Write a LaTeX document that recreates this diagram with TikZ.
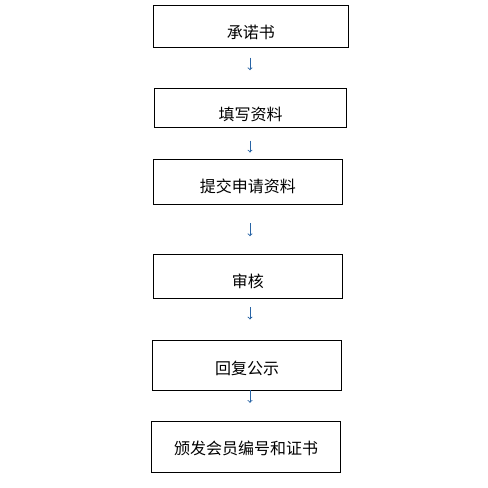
\documentclass[tikz,border=0pt]{standalone}
\usepackage{fontspec}
\newfontfamily\cjk{Noto Sans CJK SC}
\usetikzlibrary{calc}
\definecolor{arrowblue}{RGB}{40,100,165}

\begin{document}
\begin{tikzpicture}[x=1pt,y=-1pt,
		stepbox/.style={draw, line width=1pt, inner sep=0pt, font=\cjk\fontsize{16}{19}\selectfont, text depth=3pt},
		drop/.style={text height=#1},
		flowarrow/.style={->, draw=arrowblue, line width=0.9pt}]
		\useasboundingbox (0,0) rectangle (488,488);
		
		%the six steps
		\node[stepbox, drop=26.8pt, minimum width=195pt, minimum height=42.3pt] (promise) at (250.8,26.2) {承诺书};
		\node[stepbox, drop=27.6pt, minimum width=192.4pt, minimum height=39pt] (fill) at (250.5,107.8) {填写资料};
		\node[stepbox, drop=25pt, minimum width=189pt, minimum height=45pt] (submit) at (247.8,181.8) {提交申请资料};
		\node[stepbox, drop=26pt, minimum width=189pt, minimum height=44pt] (review) at (247.8,276.3) {审核};
		\node[stepbox, drop=20.2pt, minimum width=189.4pt, minimum height=50.3pt] (reply) at (247,365.8) {回复公示};
		\node[stepbox, drop=17.8pt, minimum width=189pt, minimum height=50.6pt] (issue) at (246.2,447) {颁发会员编号和证书};
		
		%short arrows in the gaps
		\draw[flowarrow] ([xshift=-0.8pt,yshift=-9.7pt]promise.south) -- ([xshift=-0.5pt,yshift=17.6pt]fill.north);
		\draw[flowarrow] ([xshift=-0.5pt,yshift=-12.7pt]fill.south) -- ([xshift=2.2pt,yshift=6.3pt]submit.north);
		\draw[flowarrow] ([xshift=2.2pt,yshift=-18.4pt]submit.south) -- ([xshift=2.2pt,yshift=17.6pt]review.north);
		\draw[flowarrow] ([xshift=2.2pt,yshift=-8.4pt]review.south) -- ([xshift=3pt,yshift=20.7pt]reply.north);
		\draw[flowarrow] ([xshift=3pt,yshift=1pt]reply.south) -- ([xshift=3.8pt,yshift=18.4pt]issue.north);
		
	\end{tikzpicture}
\end{document}
